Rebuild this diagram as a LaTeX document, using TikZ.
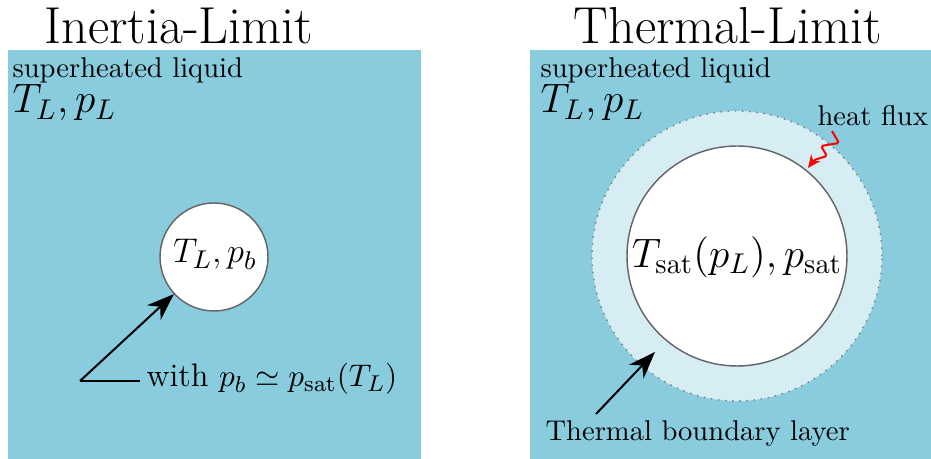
\documentclass[tikz,border=0pt]{standalone}
\usetikzlibrary{arrows.meta}
\definecolor{liq}{RGB}{136,204,222}
\definecolor{layer}{RGB}{214,237,243}
\definecolor{rim}{RGB}{100,100,100}
\definecolor{dotc}{RGB}{125,125,125}
\tikzset{
  panel/.style={fill=liq, draw=none},
  titletext/.style={anchor=base, inner sep=0pt, font=\fontsize{18.2}{22}\selectfont},
  labeltext/.style={anchor=base west, inner sep=0pt},
  bubble/.style={circle, draw=rim, line width=0.5pt, fill=white, inner sep=0pt},
  pointer/.style={line width=0.7pt, -{Stealth[length=9.5pt,width=7pt,inset=3pt]}},
  fluxarrow/.style={red, line width=0.7pt, rounded corners=0.6pt, -{Stealth[length=4.5pt,width=4pt]}}
}
\begin{document}
\begin{tikzpicture}[x=0.35pt,y=-0.35pt]
\useasboundingbox (0,0) rectangle (931,459);
% panels
\fill[panel] (8,50) rectangle (421,459);
\fill[panel] (530,50) rectangle (931,459);
% titles
\node[titletext] (t1) at (179,44) {Inertia-Limit};
\node[titletext] (t2) at (728,44) {Thermal-Limit};
% liquid labels
\node[labeltext] (sl1) at (12,78) {superheated liquid};
\node[labeltext, font=\fontsize{13.6}{16}\selectfont] (tl1) at (12,113) {$T_L, p_L$};
\node[labeltext] (sl2) at (540,78) {superheated liquid};
\node[labeltext, font=\fontsize{13.6}{16}\selectfont] (tl2) at (540,113) {$T_L, p_L$};
% left bubble
\node[bubble, minimum size=37.8pt] (b1) at (214,257) {};
\node[anchor=base, font=\fontsize{12.5}{15}\selectfont, inner sep=0pt] (b1t) at (215,263) {$T_L, p_b$};
\coordinate (k1) at (80,381);
\node[labeltext, font=\fontsize{11.4}{14}\selectfont] (w1) at (146,387) {with $p_b \simeq p_{\mathrm{sat}}(T_L)$};
\draw[line width=0.7pt] (k1) -- ([xshift=-2pt]w1.west |- k1);
\draw[pointer] (k1) -- (b1);
% right bubble
\node[circle, fill=layer, draw=dotc, dotted, line width=0.5pt, minimum size=101.5pt, inner sep=0pt] (o2) at (737,256) {};
\node[bubble, minimum size=77pt] (b2) at (737,256) {};
\node[font=\Large, inner sep=0pt] (b2t) at (737,257) {$T_{\mathrm{sat}}(p_L), p_{\mathrm{sat}}$};
\coordinate (a2s) at (596,414);
\coordinate (a2e) at (655,352);
\draw[pointer] (a2s) -- (a2e);
\node[labeltext] (tb) at (545,441) {Thermal boundary layer};
% heat flux
\node[labeltext] (hf) at (817,126) {heat flux};
\coordinate (f0) at (832,131);
\coordinate (f5) at (808,168);
\draw[fluxarrow] (f0) -- (839,143) -- (821,146) -- (827,156) -- (814,160) -- (f5);
\end{tikzpicture}
\end{document}
